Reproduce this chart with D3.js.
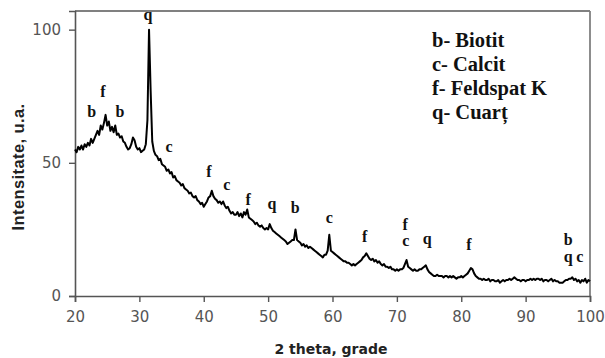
<!DOCTYPE html>
<html>
<head>
<meta charset="utf-8">
<script src="https://cdn.jsdelivr.net/npm/d3@7/dist/d3.min.js"></script>
<style>
  html, body { margin: 0; padding: 0; background: #fff; }
  svg { display: block; }
</style>
</head>
<body>
<svg id="chart" width="605" height="358"></svg>
<script>
// X-ray diffraction pattern, 2θ from 20° to 100° in 0.25° steps
const thetaStart = 20;
const thetaStep = 0.25;
const intensity = [
  55, 54, 56, 55, 56.5, 55, 57, 56, 57.5, 56.5, 59, 57.5, 59, 60.5, 62, 60.5, 64, 62.5, 65, 68,
  64, 65.5, 62, 63.5, 61.5, 64, 60.5, 61, 59.5, 60, 58, 57.5, 56, 55, 55.5, 57, 59.5, 58.5, 56, 55,
  55.5, 54, 54.5, 55, 57, 66, 100, 77, 58, 54.5, 53, 52.5, 51, 51.5, 49.5, 49, 48.5, 47, 47.5, 46,
  46.5, 44.5, 45, 43.5, 43, 42.5, 41.5, 42, 40.5, 40, 39.5, 38.5, 38.8, 37.5, 37, 37.5, 36, 35.5, 34.5, 35,
  33.5, 34.5, 35.5, 37, 37.5, 39.5, 37.5, 36.5, 36, 35, 35.5, 34.5, 35.5, 34, 33, 33.5, 32, 31, 31.5, 30.5,
  30.5, 31.5, 30, 31, 29.5, 31.5, 30.5, 32.5, 29.5, 29, 28.5, 28, 27, 27.5, 26.5, 26, 26.5, 25.5, 25, 25.5,
  25, 27, 25.5, 24.5, 24, 23.5, 23, 22.5, 22, 21.5, 21, 20.5, 19.5, 20, 20.5, 21, 21, 25, 21, 20.5,
  20, 19, 19.5, 18.5, 19, 18, 18.5, 18, 17.5, 17, 16.5, 16, 15.5, 15, 14.5, 15.5, 15.5, 17, 23, 17,
  16.5, 16, 15.5, 15, 14.5, 14, 13.5, 13, 13, 12.5, 12.5, 12, 11.5, 12, 11.5, 12, 12.5, 13, 13.5, 14.5,
  15, 16, 15, 14, 13.5, 14, 13, 13.5, 12.5, 13, 12, 11.5, 12, 11, 11, 10.5, 11, 10, 10, 9.5,
  10, 9.5, 10, 10, 10.5, 12, 13.5, 11, 10.5, 10, 9.5, 10, 9.5, 9.5, 10, 10, 10.5, 11, 11.5, 10,
  9, 8.5, 8, 7.5, 7.5, 8, 7.5, 7.5, 7.5, 7, 7.5, 7.5, 7, 7.5, 7, 7.5, 7, 6.5, 7, 7,
  7.5, 7, 7.5, 8, 8.5, 9.5, 10.5, 10, 8.5, 7.5, 7, 6.5, 6.5, 6, 6.5, 6, 6, 6.5, 5.5, 6,
  6, 5.5, 5.5, 6, 5, 5.5, 6, 5.5, 6, 6, 6.5, 6, 6.5, 7, 6.5, 6, 6, 5.5, 6, 6,
  5.5, 6, 6, 6.5, 6, 6.5, 6, 6.5, 6.5, 6, 6.5, 5.5, 6, 6, 5.5, 6, 6.5, 5.5, 6, 5.5,
  5.5, 5, 5, 5, 5.5, 6, 6, 6.5, 6.5, 7, 6, 6.5, 5.5, 6, 5, 6, 5.5, 6.5, 5, 6, 5.5
];

// Phase markers above the peaks: letter, 2θ, intensity at the letter baseline
const peakLetters = ["b", "f", "b", "q", "c", "f", "c", "f", "q", "b", "c", "f", "f", "c", "q", "f", "b", "q", "c"];
const peakTheta   = [22.6, 24.35, 27.0, 31.35, 34.6, 40.8, 43.6, 46.9, 50.6, 54.2, 59.5, 65.0, 71.3, 71.4, 74.7, 81.2, 96.6, 96.6, 98.4];
const peakLevel   = [67.2, 74.7, 67.2, 103.6, 54.1, 44.7, 39.8, 34.2, 32.7, 31.2, 27.4, 20.3, 24.8, 18.8, 19.5, 17.3, 19.1, 12.8, 12.8];

// Phase key
const legendLines = ["b- Biotit", "c- Calcit", "f- Feldspat K", "q- Cuarț"];

const xTicks = [20, 30, 40, 50, 60, 70, 80, 90, 100];
const yTicks = [0, 50, 100];
const xTitle = "2 theta, grade";
const yTitle = "Intensitate, u.a.";

const W = 605, H = 358;
const margin = { top: 11, right: 15, bottom: 62, left: 75 };
const iw = W - margin.left - margin.right;
const ih = H - margin.top - margin.bottom;

const svg = d3.select("#chart");
const g = svg.append("g").attr("transform", `translate(${margin.left},${margin.top})`);

const x = d3.scaleLinear().domain([20, 100]).range([0, iw]);
const y = d3.scaleLinear().domain([0, 107]).range([ih, 0]);

const points = intensity.map((v, i) => [thetaStart + i * thetaStep, v]);

// Frame: top and right edges
g.append("line").attr("x1", 0).attr("x2", iw).attr("y1", 0).attr("y2", 0)
  .attr("stroke", "#808080").attr("stroke-width", 1.8);
g.append("line").attr("x1", iw).attr("x2", iw).attr("y1", 0).attr("y2", ih)
  .attr("stroke", "#808080").attr("stroke-width", 1.8);

// Axes
const xAxis = g.append("g").attr("transform", `translate(0,${ih})`)
  .call(d3.axisBottom(x).tickValues(xTicks).tickSize(6).tickPadding(9).tickFormat(d3.format("d")));
const yAxis = g.append("g")
  .call(d3.axisLeft(y).tickValues(yTicks).tickSize(6).tickPadding(8).tickFormat(d3.format("d")));

[xAxis, yAxis].forEach(a => {
  a.select(".domain").attr("stroke", "#555").attr("stroke-width", 1.6);
  a.selectAll(".tick line").attr("stroke", "#555").attr("stroke-width", 1.4);
  a.selectAll(".tick text")
    .attr("fill", "#555")
    .style("font-family", "'DejaVu Sans', Verdana, sans-serif")
    .style("font-size", "15px");
});

// Diffraction curve
g.append("path")
  .datum(points)
  .attr("fill", "none")
  .attr("stroke", "#000")
  .attr("stroke-width", 2)
  .attr("stroke-linejoin", "round")
  .attr("d", d3.line().x(d => x(d[0])).y(d => y(d[1])));

// Phase letters
g.selectAll("text.peak")
  .data(peakLetters)
  .join("text")
  .attr("class", "peak")
  .attr("x", (d, i) => x(peakTheta[i]))
  .attr("y", (d, i) => y(peakLevel[i]))
  .attr("text-anchor", "middle")
  .style("font-family", "'Liberation Serif', 'Times New Roman', serif")
  .style("font-weight", "bold")
  .style("font-size", "16px")
  .attr("fill", "#111")
  .text(d => d);

// Phase key
svg.selectAll("text.key")
  .data(legendLines)
  .join("text")
  .attr("class", "key")
  .attr("x", 432)
  .attr("y", (d, i) => 46.5 + i * 24)
  .style("font-family", "'Liberation Serif', 'Times New Roman', serif")
  .style("font-weight", "bold")
  .style("font-size", "20.5px")
  .attr("fill", "#111")
  .text(d => d);

// Axis titles
svg.append("text")
  .attr("x", 331)
  .attr("y", 354)
  .attr("text-anchor", "middle")
  .style("font-family", "'DejaVu Sans', Verdana, sans-serif")
  .style("font-weight", "bold")
  .style("font-size", "14px")
  .attr("fill", "#222")
  .text(xTitle);

svg.append("text")
  .attr("transform", "translate(24,167) rotate(-90)")
  .attr("text-anchor", "middle")
  .style("font-family", "'Liberation Sans', Arial, sans-serif")
  .style("font-weight", "bold")
  .style("font-size", "16.5px")
  .style("letter-spacing", "0.4px")
  .attr("fill", "#222")
  .text(yTitle);
</script>
</body>
</html>
